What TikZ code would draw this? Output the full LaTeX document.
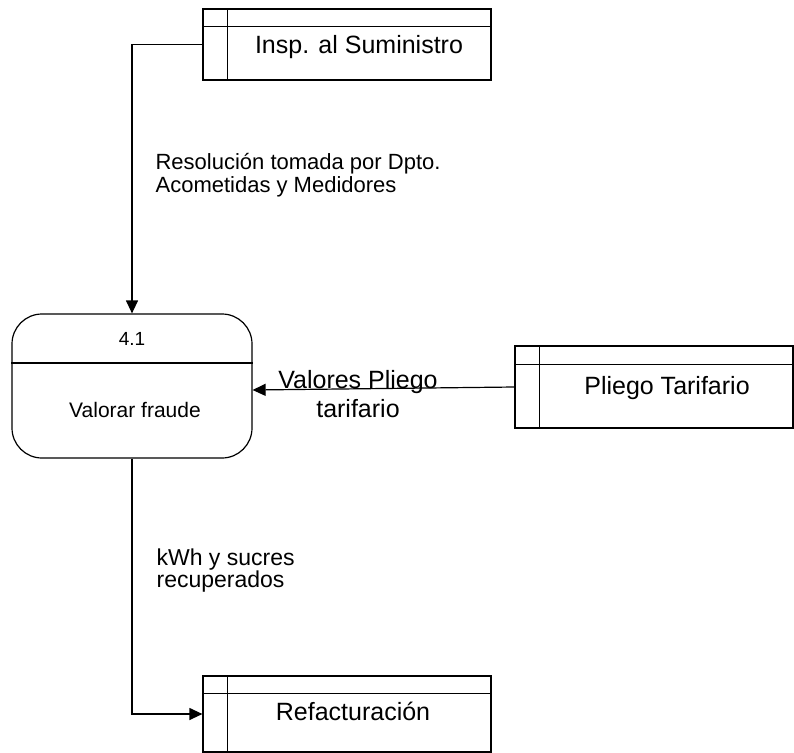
\documentclass[tikz,border=0pt]{standalone}
\usepackage{fontspec}
\setmainfont{Liberation Sans}
\usetikzlibrary{arrows.meta}
\begin{document}
\begin{tikzpicture}[x=1pt,y=-1pt,
  line width=1.2pt,
  store/.style={draw, rectangle, inner sep=0pt, line width=1.2pt},
  proc/.style={draw, rectangle, rounded corners=30pt, inner sep=0pt, line width=1.2pt},
  arr/.style={-{Triangle[length=13pt,width=12pt]}},
  boxtext/.style={font=\fontsize{25}{29}\selectfont, inner sep=0pt, anchor=base},
  flowlbl/.style={font=\fontsize{22}{23}\selectfont, inner sep=0pt, align=left, anchor=base west},
]
\useasboundingbox (0,0) rectangle (794,752);
% data stores
\node[store, minimum width=288pt, minimum height=71pt] (insp) at (347,44.5) {};
\draw ([xshift=25pt]insp.north west) -- ([xshift=25pt]insp.south west);
\draw ([yshift=-18pt]insp.north west) -- ([yshift=-18pt]insp.north east);
\node[boxtext] (insptxt) at (359,53) {Insp. al Suministro};

\node[store, minimum width=278pt, minimum height=82pt] (plie) at (654,387) {};
\draw ([xshift=25pt]plie.north west) -- ([xshift=25pt]plie.south west);
\draw ([yshift=-19pt]plie.north west) -- ([yshift=-19pt]plie.north east);
\node[boxtext] (plietxt) at (667,394) {Pliego Tarifario};

\node[store, minimum width=288pt, minimum height=76pt] (refac) at (347,714) {};
\draw ([xshift=25pt]refac.north west) -- ([xshift=25pt]refac.south west);
\draw ([yshift=-18pt]refac.north west) -- ([yshift=-18pt]refac.north east);
\node[boxtext] (refactxt) at (353,720) {Refacturación};

% process
\node[proc, minimum width=240pt, minimum height=144pt] (proc) at (132,386) {};
\draw (proc.west |- 0,363) -- (proc.east |- 0,363);
\node[font=\fontsize{19}{22}\selectfont, inner sep=0pt, anchor=base] (pid) at (132,345) {4.1};
\node[font=\fontsize{21}{24}\selectfont, inner sep=0pt, anchor=base] (pname) at (135,417) {Valorar fraude};

% flows
\draw[arr] (insp.west) -| (proc.north);
\draw[arr] (plie.west) -- ([yshift=-4pt]proc.east);
\draw[arr] (proc.south) |- (refac.west);

% labels
\node[flowlbl] (l1) at (155,192) {Resolución tomada por Dpto.\\Acometidas y Medidores};
\node[flowlbl, font=\fontsize{23}{22}\selectfont] (l3) at (156,587) {kWh y sucres\\recuperados};
\node[font=\fontsize{25}{29}\selectfont, inner sep=0pt, align=center, anchor=base] (l2) at (358,417) {Valores Pliego\\tarifario};
\end{tikzpicture}
\end{document}
